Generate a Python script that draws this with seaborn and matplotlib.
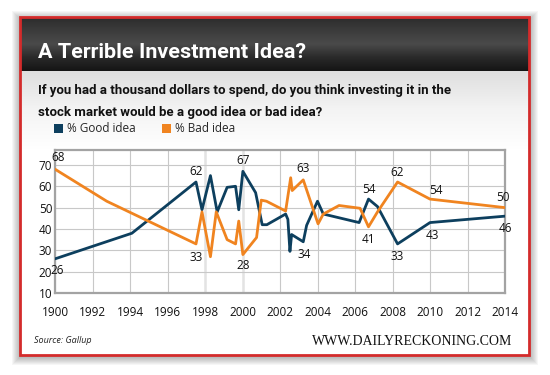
import numpy as np
import pandas as pd
import seaborn as sns
import matplotlib
matplotlib.use("Agg")
import matplotlib.pyplot as plt
from matplotlib.patches import Rectangle, Patch
from matplotlib.colors import to_rgb

# ---------------- data ----------------
good_years = [1990.0, 1994.1, 1997.52, 1997.84, 1998.29, 1998.65, 1999.18, 1999.63, 1999.8,
              2000.02, 2000.7, 2001.05, 2001.3, 2002.3, 2002.42, 2002.53, 2002.62, 2003.24,
              2003.42, 2004.0, 2004.31, 2006.22, 2006.72, 2007.2, 2008.27, 2010.0, 2014.0]
good_vals = [26, 38, 62, 49, 65, 48, 59.5, 60, 49, 67, 57, 42, 42, 47, 44.5, 29.5, 37.4, 34,
             41.7, 53, 47, 43, 54, 50.5, 33, 43, 46]
bad_years = [1990.0, 1992.76, 1997.52, 1997.84, 1998.29, 1998.6, 1999.18, 1999.63, 1999.8,
             2000.02, 2000.75, 2001.0, 2001.28, 2002.3, 2002.57, 2002.65, 2003.24, 2004.03,
             2004.31, 2005.15, 2006.27, 2006.72, 2007.2, 2008.27, 2010.0, 2014.0]
bad_vals = [68, 53, 33, 48, 27, 48, 35, 33, 43.7, 28, 36, 53.5, 53, 48.4, 64, 58, 63, 42.4,
            47, 51, 49.7, 41, 48, 62, 54, 50]

good_label_idx = [0, 2, 9, 17, 22, 24, 25, 26]
bad_label_idx = [0, 2, 9, 16, 21, 23, 24, 25]

tick_years = list(range(1990, 2015, 2))
tick_labels = ["1900", "1992", "1994", "1996", "1998", "2000", "2002", "2004",
               "2006", "2008", "2010", "2012", "2014"]
y_ticks = [10, 20, 30, 40, 50, 60, 70]

series_names = ["% Good idea", "% Bad idea"]
title = "A Terrible Investment Idea?"
subtitle = ["If you had a thousand dollars to spend, do you think investing it in the",
            "stock market would be a good idea or bad idea?"]
source = "Source: Gallup"
site = "WWW.DAILYRECKONING.COM"

# ---------------- style ----------------
GOOD = "#0d3f5e"
BAD = "#f08420"
sns.set_theme(style="white")
plt.rcParams["font.family"] = ["Open Sans", "DejaVu Sans"]
HEAD_FONT = ["Roboto", "DejaVu Sans"]

W, H = 550, 375
fig = plt.figure(figsize=(W / 100, H / 100), dpi=100)
fig.patch.set_facecolor("white")
renderer = fig.canvas.get_renderer()

# background layer in pixel coordinates
bg = fig.add_axes([0, 0, 1, 1], zorder=0)
bg.set_xlim(0, W)
bg.set_ylim(H, 0)
bg.axis("off")

cx0, cy0, cx1, cy1 = 20, 17, 529, 355
# shadow
for i in range(9, 0, -1):
    bg.add_patch(Rectangle((cx0 - i + 1, cy0 - i + 3), (cx1 - cx0) + 2 * i - 1,
                           (cy1 - cy0) + 2 * i - 2, facecolor="black",
                           edgecolor="none", alpha=0.035))
bg.add_patch(Rectangle((cx0, cy0), cx1 - cx0, cy1 - cy0, facecolor="white", edgecolor="none"))


def vgrad(c_list, n=64):
    cs = [np.array(to_rgb(c)) for c in c_list]
    t = np.linspace(0, 1, n)
    seg = len(cs) - 1
    out = []
    for tt in t:
        k = min(int(tt * seg), seg - 1)
        f = tt * seg - k
        out.append(cs[k] * (1 - f) + cs[k + 1] * f)
    return np.array(out)[:, None, :]


bg.imshow(vgrad(["#dedede", "#f4f4f4", "#ffffff"]), extent=(cx0, cx1, 150, 70),
          aspect="auto", interpolation="bilinear", zorder=1)
bg.imshow(vgrad(["#2c2c2c", "#3c3c3c", "#4a4a4a", "#2a2a2a", "#151515"]),
          extent=(cx0, cx1, 71, cy0), aspect="auto", interpolation="bilinear", zorder=1)
bg.add_patch(Rectangle((cx0, cy0), cx1 - cx0, cy1 - cy0, facecolor="none",
                       edgecolor="#d42b2b", lw=2.0, zorder=3))
bg.set_xlim(0, W)
bg.set_ylim(H, 0)


def fit_text(x, y, s, target_w, start, **kw):
    t = bg.text(x, y, s, fontsize=start, **kw)
    w = t.get_window_extent(renderer=renderer).width
    t.set_fontsize(start * target_w / w)
    return t


tt = fit_text(38, 58, title, 268, 16, color="white", fontweight="bold", family=HEAD_FONT,
              va="baseline", ha="left", zorder=4)
st = fit_text(38, 94, subtitle[0], 415, 10, color="#111111", fontweight="bold",
              family=HEAD_FONT, va="baseline", ha="left", zorder=4)
bg.text(38, 116, subtitle[1], color="#111111", fontsize=st.get_fontsize(), fontweight="bold",
        family=HEAD_FONT, va="baseline", ha="left", zorder=4)
bg.text(34, 343, source, color="#222222", fontsize=6.5, style="italic",
        va="baseline", ha="left", zorder=4)
bg.text(512, 345, site, color="#111111", fontsize=10,
        family=["Liberation Serif", "DejaVu Serif"], va="baseline", ha="right", zorder=4)

# ---------------- chart ----------------
ax = fig.add_axes([55 / W, (H - 293) / H, 450 / W, 143 / H], zorder=2)
ax.set_facecolor("white")

df = pd.concat([
    pd.DataFrame({"year": good_years, "value": good_vals, "series": series_names[0]}),
    pd.DataFrame({"year": bad_years, "value": bad_vals, "series": series_names[1]}),
], ignore_index=True)

sns.lineplot(data=df, x="year", y="value", hue="series", sort=False, estimator=None,
             palette={series_names[0]: GOOD, series_names[1]: BAD}, lw=2.0,
             legend=False, ax=ax, zorder=3)

ax.set_xlim(1990, 2014)
ax.set_ylim(10, 77)
ax.set_xticks(tick_years)
ax.set_xticklabels(tick_labels)
ax.set_yticks(y_ticks)
ax.set_xlabel("")
ax.set_ylabel("")
ax.tick_params(axis="x", length=0, pad=9, labelsize=8.5, labelcolor="#111111")
ax.tick_params(axis="y", length=0, pad=2, labelsize=8.5, labelcolor="#111111")
ax.grid(True, color="#c8c8c8", lw=0.8, zorder=0)
ax.set_axisbelow(True)
for i, gl in enumerate(ax.xaxis.get_gridlines()):
    if tick_years[i] in (1998, 2000):
        gl.set_color("#e3e3e3")
        gl.set_linewidth(1.8)
for s in ax.spines.values():
    s.set_visible(True)
    s.set_color("#a3a3a3")
    s.set_linewidth(1.6)

# data labels
good_offsets = [(2, -12), (0, 11), (0, 11), (1, -13), (0, 10), (0, -13), (2, -13), (0, -12)]
bad_offsets = [(3, 12), (0, -14), (0, -11), (0, 11), (0, -13), (0, 10), (6, 9), (-2, 10)]
for idx, off in zip(good_label_idx, good_offsets):
    ax.annotate(f"{good_vals[idx]:g}", (good_years[idx], good_vals[idx]), xytext=off,
                textcoords="offset pixels", ha="center", va="center", fontsize=8.5,
                color="#111111", annotation_clip=False, zorder=5)
for idx, off in zip(bad_label_idx, bad_offsets):
    ax.annotate(f"{bad_vals[idx]:g}", (bad_years[idx], bad_vals[idx]), xytext=off,
                textcoords="offset pixels", ha="center", va="center", fontsize=8.5,
                color="#111111", annotation_clip=False, zorder=5)

# legend
handles = [Patch(facecolor=GOOD, edgecolor="none", label=series_names[0]),
           Patch(facecolor=BAD, edgecolor="none", label=series_names[1])]
fig.legend(handles=handles, loc="center left", bbox_to_anchor=(54 / W, 1 - 129 / H),
           ncol=2, frameon=False, fontsize=8.5, handlelength=0.75, handleheight=0.75,
           handletextpad=0.35, columnspacing=2.2, borderaxespad=0, borderpad=0)

fig.savefig("out.png", dpi=100, facecolor="white")
